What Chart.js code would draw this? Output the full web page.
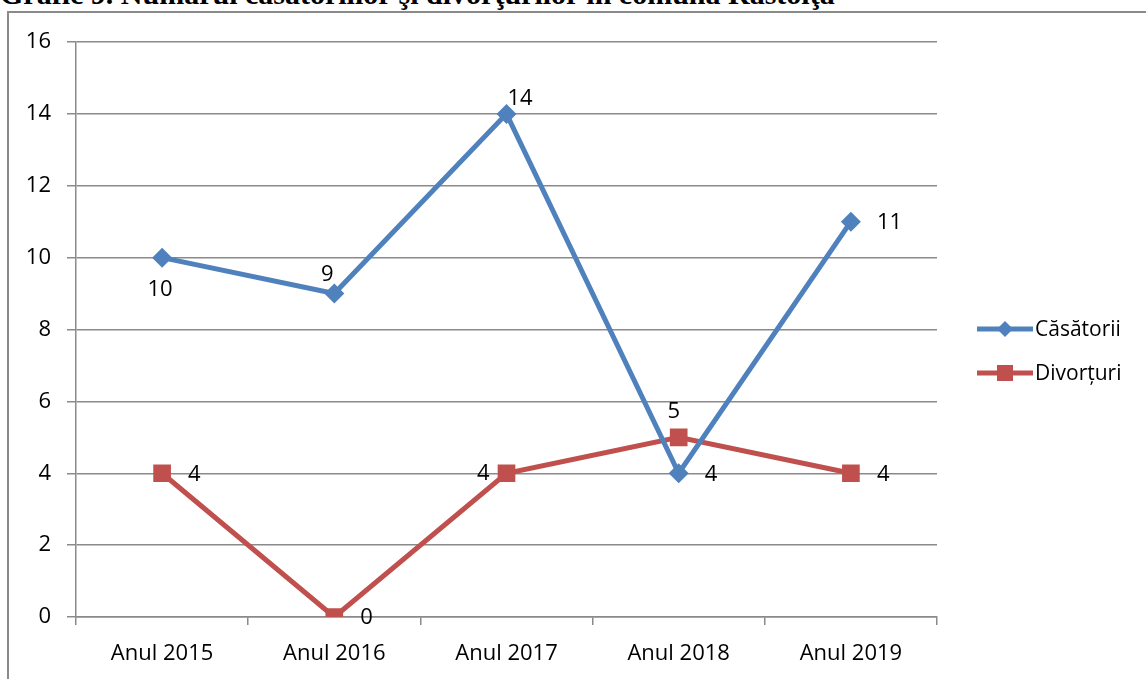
<!DOCTYPE html>
<html>
<head>
<meta charset="utf-8">
<script src="https://cdn.jsdelivr.net/npm/chart.js@4"></script>
<style>
    html, body { margin: 0; padding: 0; background: #fff; overflow: hidden; }
    #title {
        position: absolute; left: 0; top: -21px; white-space: nowrap;
        font: bold 30px/30px "Liberation Serif", serif; color: #000;
    }
    #frame {
        position: absolute; left: 7px; top: 11px; width: 1200px; height: 700px;
        border-left: 2px solid #8a8a8a; border-top: 2px solid #8a8a8a;
    }
    #wrap { position: absolute; left: 0; top: 0; width: 1146px; height: 679px; }
</style>
</head>
<body>
<div id="title">Grafic 9. Numărul căsătoriilor şi divorţurilor în comuna Rastoiţa</div>
<div id="frame"></div>
<div id="wrap"><canvas id="chart"></canvas></div>
<script>
// Chart data
const categories = ['Anul 2015', 'Anul 2016', 'Anul 2017', 'Anul 2018', 'Anul 2019'];
const casatorii = [10, 9, 14, 4, 11];
const divorturi = [4, 0, 4, 5, 4];
const yTicks = [0, 2, 4, 6, 8, 10, 12, 14, 16];

const FONT = '"Open Sans", sans-serif';
const FONT_SIZE = 22;
const BLUE = '#4f81bd';
const RED = '#c0504d';
const GRID = '#8a8a8a';

// where each value label sits relative to its point
const labelPlacement = [
    ['below', 'aboveLeft', 'aboveRight', 'right', 'right'],
    ['right', 'right', 'left', 'above', 'right']
];

// Draws the value labels next to points
const valueLabels = {
    id: 'valueLabels',
    afterDatasetsDraw(chart) {
        const ctx = chart.ctx;
        ctx.save();
        ctx.font = FONT_SIZE + 'px ' + FONT;
        ctx.fillStyle = '#000';
        ctx.textBaseline = 'middle';
        chart.data.datasets.forEach((ds, di) => {
            const meta = chart.getDatasetMeta(di);
            meta.data.forEach((pt, i) => {
                const text = String(ds.data[i]);
                let x = pt.x, y = pt.y;
                const place = labelPlacement[di][i];
                if (place === 'right') { ctx.textAlign = 'left'; x += 26; y += 1; }
                else if (place === 'left') { ctx.textAlign = 'right'; x -= 17; }
                else if (place === 'above') { ctx.textAlign = 'center'; x -= 5; y -= 26; }
                else if (place === 'below') { ctx.textAlign = 'center'; x -= 2; y += 32; }
                else if (place === 'aboveLeft') { ctx.textAlign = 'center'; x -= 7; y -= 19; }
                else if (place === 'aboveRight') { ctx.textAlign = 'left'; x += 1; y -= 15; }
                ctx.fillText(text, x, y);
            });
        });
        ctx.restore();
    }
};

// Legend on the right with line + marker
const sideLegend = {
    id: 'sideLegend',
    afterDraw(chart) {
        const ctx = chart.ctx;
        ctx.save();
        ctx.font = '21px ' + FONT;
        ctx.textBaseline = 'middle';
        ctx.textAlign = 'left';
        chart.data.datasets.forEach((ds, di) => {
            const y = 329 + di * 44;
            const x0 = 977, x1 = 1033, xm = (x0 + x1) / 2;
            ctx.strokeStyle = ds.borderColor;
            ctx.lineWidth = 5;
            ctx.beginPath();
            ctx.moveTo(x0, y);
            ctx.lineTo(x1, y);
            ctx.stroke();
            ctx.fillStyle = ds.borderColor;
            if (ds.pointStyle === 'rectRot') {
                ctx.beginPath();
                ctx.moveTo(xm, y - 8);
                ctx.lineTo(xm + 8, y);
                ctx.lineTo(xm, y + 8);
                ctx.lineTo(xm - 8, y);
                ctx.closePath();
                ctx.fill();
            } else {
                ctx.fillRect(xm - 8, y - 8, 16, 16);
            }
            ctx.fillStyle = '#000';
            ctx.fillText(ds.label, x1 + 2, y + 1);
        });
        ctx.restore();
    }
};

new Chart(document.getElementById('chart'), {
    type: 'line',
    data: {
        labels: categories,
        datasets: [{
            label: 'Căsătorii',
            data: casatorii,
            borderColor: BLUE,
            backgroundColor: BLUE,
            borderWidth: 5,
            pointStyle: 'rectRot',
            pointRadius: 10,
            pointHoverRadius: 10,
            pointBorderWidth: 0,
            tension: 0
        }, {
            label: 'Divorțuri',
            data: divorturi,
            borderColor: RED,
            backgroundColor: RED,
            borderWidth: 5,
            pointStyle: 'rect',
            pointRadius: 12.5,
            pointHoverRadius: 12.5,
            pointBorderWidth: 0,
            tension: 0
        }]
    },
    options: {
        responsive: true,
        maintainAspectRatio: false,
        animation: false,
        layout: { padding: { top: 42, right: 209, left: 0, bottom: 0 } },
        plugins: {
            legend: { display: false },
            tooltip: { enabled: false }
        },
        scales: {
            x: {
                offset: true,
                afterFit(scale) { scale.height = 62; },
                grid: {
                    offset: true,
                    drawOnChartArea: false,
                    drawTicks: true,
                    tickLength: 8,
                    color: GRID,
                    lineWidth: 1.5
                },
                border: { color: GRID, width: 1.5 },
                ticks: {
                    color: '#000',
                    font: { family: FONT, size: FONT_SIZE },
                    padding: 16,
                    maxRotation: 0
                }
            },
            y: {
                min: 0,
                max: 16,
                afterFit(scale) { scale.width = 76; },
                afterBuildTicks(scale) { scale.ticks = yTicks.map(v => ({ value: v })); },
                grid: {
                    color: GRID,
                    lineWidth: 1.5,
                    tickLength: 9
                },
                border: { color: GRID, width: 1.5 },
                ticks: {
                    color: '#000',
                    font: { family: FONT, size: FONT_SIZE },
                    padding: 16
                }
            }
        }
    },
    plugins: [valueLabels, sideLegend]
});
</script>
</body>
</html>
